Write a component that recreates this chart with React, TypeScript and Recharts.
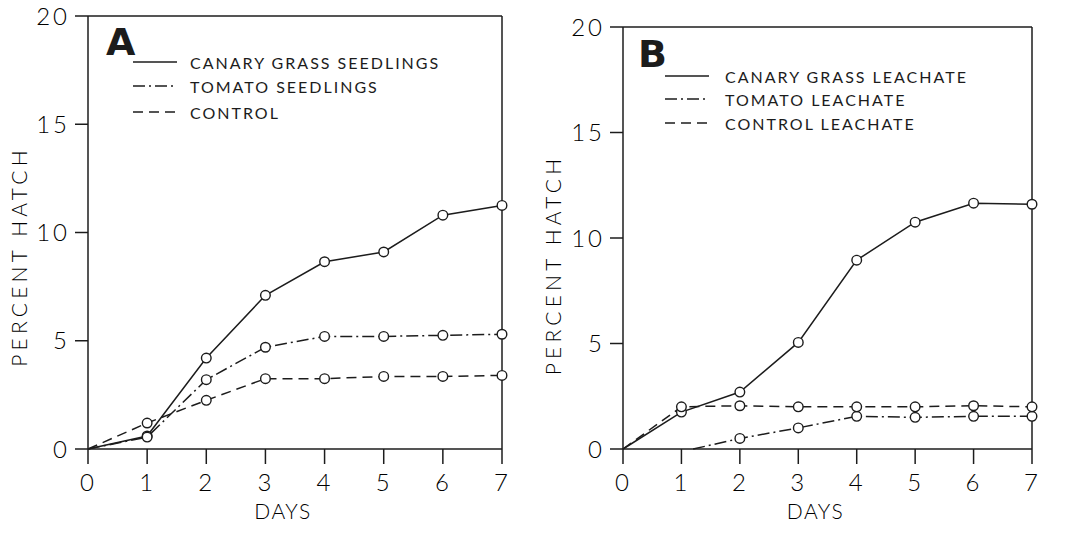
import { LineChart, Line, XAxis, YAxis, Legend, ReferenceLine } from 'recharts';

// days on the x axis and y tick values
const days = [0, 1, 2, 3, 4, 5, 6, 7];
const yTicks = [0, 5, 10, 15, 20];

// panel A: seedlings
const seedNames = ['CANARY GRASS SEEDLINGS', 'TOMATO SEEDLINGS', 'CONTROL'];
const seedCanary = [0, 0.6, 4.2, 7.1, 8.65, 9.1, 10.8, 11.25];
const seedTomato = [0, 0.55, 3.2, 4.7, 5.2, 5.2, 5.25, 5.3];
const seedControl = [0, 1.2, 2.25, 3.25, 3.25, 3.35, 3.35, 3.4];

// panel B: leachates
const leachNames = ['CANARY GRASS LEACHATE', 'TOMATO LEACHATE', 'CONTROL LEACHATE'];
const leachCanary = [0, 1.75, 2.7, 5.05, 8.95, 10.75, 11.65, 11.6];
const leachTomatoDays = [1.2, 2, 3, 4, 5, 6, 7];
const leachTomato = [0, 0.5, 1.0, 1.55, 1.5, 1.55, 1.55];
const leachControl = [0, 2.0, 2.05, 2.0, 2.0, 2.0, 2.05, 2.0];

const dashes = ['', '12 4 2 4', '10 6'];
const INK = '#1c1c1c';
const FONT = 'Lato, "DejaVu Sans", sans-serif';

const toPoints = (xs: number[], ys: number[]) => xs.map((d, i) => ({ day: d, value: ys[i] }));

const Marker = (props: any) => {
  const { cx, cy, payload, index } = props;
  if (!Number.isInteger(payload.day) || payload.day === 0) return <g key={`m-${index}`} />;
  return <circle key={`m-${index}`} cx={cx} cy={cy} r={4.8} fill="#fff" stroke={INK} strokeWidth={1.4} />;
};

function makeLegend(letter: string, names: string[], lx: number, tx: number, rows: number[], letterBase: number) {
  return () => (
    <svg width={380} height={120} style={{ overflow: 'visible' }}>
      <text x={6} y={letterBase} fontFamily='"DejaVu Sans", sans-serif' fontWeight={700} fontSize={38} fill={INK}>
        {letter}
      </text>
      {names.map((n, i) => (
        <g key={n}>
          <line x1={lx} x2={lx + 44} y1={rows[i]} y2={rows[i]} stroke={INK} strokeWidth={1.6}
            strokeDasharray={dashes[i] || undefined} />
          <text x={tx} y={rows[i]} dominantBaseline="central" fontFamily={FONT} fontSize={16}
            letterSpacing={2} fill={INK}>{n}</text>
        </g>
      ))}
    </svg>
  );
}

function Panel({ left, width, margin, yWidth, series, legend, yLabelDx, yLabelDy }: any) {
  return (
    <div style={{ position: 'absolute', left, top: 0 }}>
      <LineChart width={width} height={542} margin={margin}>
        <XAxis dataKey="day" type="number" domain={[0, 7]} ticks={days} allowDuplicatedCategory={false}
          stroke={INK} strokeWidth={1.5} tickSize={15} tickMargin={10} height={72}
          tick={{ fontSize: 24, fontFamily: FONT, fontWeight: 300, fill: '#000', letterSpacing: 2 }}
          label={{
            content: (p: any) => (
              <text x={p.viewBox.x + p.viewBox.width / 2 - 12} y={p.viewBox.y + 70} textAnchor="middle"
                fontFamily={FONT} fontSize={21} fontWeight={300} letterSpacing={1.5} fill="#000">DAYS</text>
            ),
          }}
        />
        <YAxis type="number" domain={[0, 20]} ticks={yTicks} width={yWidth} stroke={INK} strokeWidth={1.5}
          tickSize={13} tickMargin={5}
          tick={{ fontSize: 24, fontFamily: FONT, fontWeight: 300, fill: '#000', letterSpacing: 3 }}
          label={{
            content: (p: any) => {
              const cx = p.viewBox.x + yLabelDx;
              const cy = p.viewBox.y + p.viewBox.height / 2 + yLabelDy;
              return (
                <text x={cx} y={cy} transform={`rotate(-90 ${cx} ${cy})`} textAnchor="middle"
                  dominantBaseline="central" fontFamily={FONT} fontSize={21} fontWeight={300}
                  letterSpacing={4.2} fill="#000">PERCENT HATCH</text>
              );
            },
          }}
        />
        <ReferenceLine y={20} stroke={INK} strokeWidth={1.5} />
        <ReferenceLine x={7} stroke={INK} strokeWidth={1.5} />
        {series.map((s: any, i: number) => (
          <Line key={s.name} data={s.data} dataKey="value" name={s.name} type="linear" stroke={INK}
            strokeWidth={1.5} strokeDasharray={dashes[i] || undefined} dot={Marker} activeDot={false}
            isAnimationActive={false} />
        ))}
        <Legend layout="horizontal" verticalAlign="middle" align="center" content={legend.content}
          wrapperStyle={{ left: legend.left, top: legend.top, width: 380 }} />
      </LineChart>
    </div>
  );
}

export default function App() {
  const seriesA = [
    { name: seedNames[0], data: toPoints(days, seedCanary) },
    { name: seedNames[1], data: toPoints(days, seedTomato) },
    { name: seedNames[2], data: toPoints(days, seedControl) },
  ];
  const seriesB = [
    { name: leachNames[0], data: toPoints(days, leachCanary) },
    { name: leachNames[1], data: toPoints(leachTomatoDays, leachTomato) },
    { name: leachNames[2], data: toPoints(days, leachControl) },
  ];
  return (
    <div style={{ position: 'absolute', left: 0, top: 0, width: 1065, height: 542, background: '#fff' }}>
      <Panel left={0} width={540} margin={{ top: 16, right: 38, bottom: 21, left: 0 }} yWidth={88}
        series={seriesA} yLabelDx={18} yLabelDy={24}
        legend={{ left: 100, top: 20, content: makeLegend('A', seedNames, 33, 90, [42, 66, 92], 35) }} />
      <Panel left={530} width={535} margin={{ top: 27, right: 33, bottom: 21, left: 0 }} yWidth={93}
        series={seriesB} yLabelDx={22} yLabelDy={27}
        legend={{ left: 102, top: 30, content: makeLegend('B', leachNames, 33, 93, [46, 69, 93], 37) }} />
    </div>
  );
}
